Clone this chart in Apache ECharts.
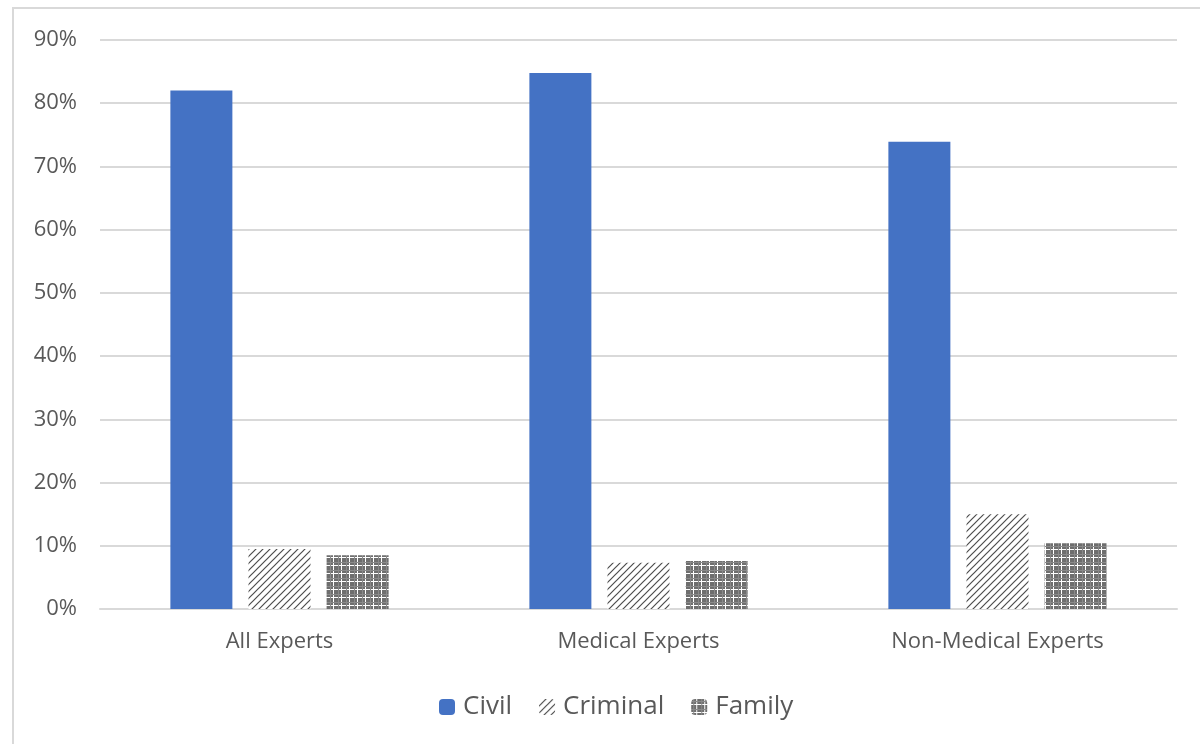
<!DOCTYPE html>
<html>
<head>
<meta charset="utf-8">
<script src="https://cdn.jsdelivr.net/npm/echarts@6/dist/echarts.min.js"></script>
<style>
html,body{margin:0;padding:0;background:#fff;}
#chart{width:1200px;height:744px;}
</style>
</head>
<body>
<div id="chart"></div>
<script>
const categories = ['All Experts', 'Medical Experts', 'Non-Medical Experts'];
const civil = [82.0, 84.8, 73.9];
const criminal = [9.5, 7.3, 15.0];
const family = [8.5, 7.6, 10.4];
const yTicks = { min: 0, max: 90, interval: 10 };

function diagPattern() {
  const c = document.createElement('canvas');
  c.width = 7; c.height = 7;
  const g = c.getContext('2d');
  g.fillStyle = '#ffffff'; g.fillRect(0, 0, 7, 7);
  g.strokeStyle = '#4d4d4d'; g.lineWidth = 1.2;
  g.beginPath();
  g.moveTo(-1, 8); g.lineTo(8, -1);
  g.moveTo(-1, 1); g.lineTo(1, -1);
  g.moveTo(6, 8); g.lineTo(8, 6);
  g.stroke();
  return c;
}
function gridPattern() {
  const c = document.createElement('canvas');
  c.width = 8; c.height = 8;
  const g = c.getContext('2d');
  g.fillStyle = '#ffffff'; g.fillRect(0, 0, 8, 8);
  g.fillStyle = '#6e6e6e';
  for (let x = 0; x < 8; x += 3) {
    for (let y = 0; y < 8; y += 3) {
      g.fillRect(x, y, 2, 2);
    }
  }
  g.fillStyle = '#8a8a8a';
  g.fillRect(0, 2, 8, 1);
  g.fillRect(2, 0, 1, 8);
  return c;
}

const chart = echarts.init(document.getElementById('chart'), null, { renderer: 'canvas' });
const font = '"Open Sans", "Noto Sans", sans-serif';
const option = {
  animation: false,
  backgroundColor: '#ffffff',
  graphic: [{
    type: 'rect',
    shape: { x: 13, y: 8, width: 1200, height: 800 },
    style: { fill: 'none', stroke: '#d9d9d9', lineWidth: 2 },
    silent: true, z: -1
  }],
  grid: { left: 100, right: 23, top: 40, bottom: 135, containLabel: false },
  legend: {
    bottom: 19,
    left: 434,
    itemWidth: 16,
    itemHeight: 16,
    itemGap: 27,
    textStyle: { fontFamily: font, fontSize: 26, color: '#595959', padding: [0, 0, 0, 3] },
    data: ['Civil', 'Criminal', 'Family']
  },
  xAxis: {
    type: 'category',
    data: categories,
    axisLine: { lineStyle: { color: '#d9d9d9', width: 2 } },
    axisTick: { show: false },
    axisLabel: { fontFamily: font, fontSize: 22, color: '#595959', margin: 22 }
  },
  yAxis: {
    type: 'value',
    min: yTicks.min, max: yTicks.max, interval: yTicks.interval,
    axisLine: { show: false },
    axisTick: { show: false },
    splitLine: { lineStyle: { color: '#d9d9d9', width: 2 } },
    axisLabel: { fontFamily: font, fontSize: 22, color: '#595959', margin: 23, formatter: '{value}%' }
  },
  series: [
    { name: 'Civil', type: 'bar', data: civil, barWidth: 62, barGap: '26%',
      itemStyle: { color: '#4472c4' } },
    { name: 'Criminal', type: 'bar', data: criminal, barWidth: 62,
      itemStyle: { color: { image: diagPattern(), repeat: 'repeat' } } },
    { name: 'Family', type: 'bar', data: family, barWidth: 62,
      itemStyle: { color: { image: gridPattern(), repeat: 'repeat' } } }
  ]
};
chart.setOption(option);
</script>
</body>
</html>
